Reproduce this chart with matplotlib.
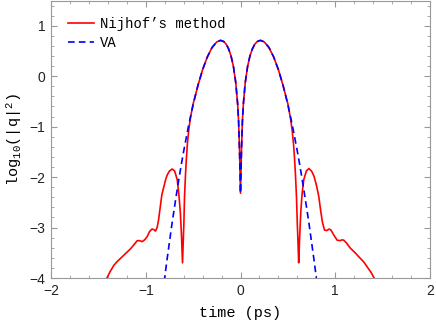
import matplotlib
matplotlib.use('Agg')
import matplotlib.pyplot as plt
from matplotlib.ticker import MultipleLocator

# values (time in ps, log10|q|^2)
t_nijhof = [-1.45, -1.41, -1.375, -1.337, -1.30, -1.249, -1.21, -1.16, -1.12, -1.09,
            -1.065, -1.038, -1.01, -0.985, -0.96, -0.935, -0.915, -0.897, -0.88, -0.865,
            -0.851, -0.83, -0.809, -0.79, -0.774, -0.75, -0.721, -0.695, -0.668, -0.65,
            -0.635, -0.623, -0.612, -0.603, -0.598, -0.591, -0.58, -0.57, -0.56, -0.545,
            -0.528, -0.50, -0.45, -0.40, -0.35, -0.30, -0.25, -0.21, -0.175, -0.15,
            -0.125, -0.10, -0.075, -0.05, -0.03, -0.02, -0.01, 0.0,
            0.01, 0.02, 0.03, 0.05, 0.075, 0.10, 0.125, 0.15, 0.175, 0.21,
            0.25, 0.30, 0.35, 0.40, 0.45, 0.50, 0.528, 0.545, 0.56, 0.57,
            0.58, 0.591, 0.60, 0.606, 0.614, 0.624, 0.636, 0.65, 0.668, 0.695,
            0.721, 0.75, 0.775, 0.80, 0.826, 0.845, 0.865, 0.887, 0.91, 0.935,
            0.955, 0.985, 1.02, 1.048, 1.07, 1.09, 1.12, 1.16, 1.21, 1.249,
            1.30, 1.337, 1.375, 1.41, 1.45]
y_nijhof = [-4.12, -4.00, -3.87, -3.75, -3.67, -3.58, -3.51, -3.42, -3.33, -3.26,
            -3.26, -3.28, -3.24, -3.18, -3.08, -3.03, -3.04, -3.07, -3.00, -2.85,
            -2.65, -2.35, -2.19, -2.05, -1.96, -1.88, -1.84, -1.88, -2.05, -2.35,
            -2.70, -3.15, -3.70, -3.20, -2.95, -2.40, -1.93, -1.60, -1.33, -1.05,
            -0.82, -0.55, -0.19, 0.13, 0.38, 0.57, 0.68, 0.71, 0.685, 0.63,
            0.54, 0.40, 0.195, -0.13, -0.555, -0.90, -1.50, -2.32,
            -1.50, -0.90, -0.555, -0.13, 0.195, 0.40, 0.54, 0.63, 0.685, 0.71,
            0.68, 0.57, 0.38, 0.13, -0.19, -0.55, -0.84, -1.07, -1.35, -1.62,
            -1.95, -2.40, -2.95, -3.25, -3.70, -3.20, -2.70, -2.33, -2.05, -1.88,
            -1.83, -1.88, -1.98, -2.15, -2.38, -2.65, -2.90, -3.05, -3.06, -3.03,
            -3.05, -3.15, -3.25, -3.26, -3.245, -3.25, -3.31, -3.41, -3.50, -3.58,
            -3.68, -3.78, -3.88, -4.00, -4.12]

t_va = [-0.82, -0.80, -0.775, -0.75, -0.725, -0.70, -0.675, -0.65, -0.625, -0.60,
        -0.55, -0.50, -0.45, -0.40, -0.35, -0.30, -0.25, -0.21, -0.175, -0.15,
        -0.125, -0.10, -0.075, -0.05, -0.03, -0.02, -0.01, 0.0,
        0.01, 0.02, 0.03, 0.05, 0.075, 0.10, 0.125, 0.15, 0.175, 0.21,
        0.25, 0.30, 0.35, 0.40, 0.45, 0.50, 0.55, 0.60, 0.625, 0.65,
        0.675, 0.70, 0.725, 0.75, 0.775, 0.80, 0.82]
y_va = [-4.29, -3.99, -3.63, -3.29, -2.95, -2.635, -2.33, -2.035, -1.755, -1.49,
        -1.00, -0.564, -0.188, 0.128, 0.382, 0.568, 0.68, 0.71, 0.685, 0.631,
        0.539, 0.402, 0.195, -0.126, -0.555, -0.90, -1.50, -2.32,
        -1.50, -0.90, -0.555, -0.126, 0.195, 0.402, 0.539, 0.631, 0.685, 0.71,
        0.68, 0.568, 0.382, 0.128, -0.188, -0.564, -1.00, -1.49, -1.755, -2.035,
        -2.33, -2.635, -2.95, -3.29, -3.63, -3.99, -4.29]

mono = 'Liberation Mono'
plt.rcParams['mathtext.fontset'] = 'custom'
plt.rcParams['mathtext.rm'] = mono
plt.rcParams['mathtext.it'] = mono

fig = plt.figure(figsize=(4.36, 3.27), dpi=100)
ax = fig.add_axes([51 / 436, 49 / 327, 379 / 436, 277.5 / 327])

ax.plot(t_nijhof, y_nijhof, color='#ff0000', lw=1.2, label="Nijhof’s method")
line, = ax.plot(t_va, y_va, color='#0000ff', lw=1.2, label='VA')
line.set_dashes((4, 2.5))

ax.set_xlim(-2, 2)
ax.set_ylim(-4, 1.5)
ax.xaxis.set_major_locator(MultipleLocator(1))
ax.xaxis.set_minor_locator(MultipleLocator(0.2))
ax.yaxis.set_major_locator(MultipleLocator(1))
ax.yaxis.set_minor_locator(MultipleLocator(0.2))

for s in ax.spines.values():
    s.set_color('#999999')
    s.set_linewidth(0.8)
ax.tick_params(which='both', direction='in', top=True, right=True, color='#999999')
ax.tick_params(which='major', length=4.5, width=0.8, labelsize=10, pad=4,
               labelcolor='#222222')
ax.tick_params(which='minor', length=2.5, width=0.6)
for lab in ax.get_xticklabels() + ax.get_yticklabels():
    lab.set_family('Liberation Sans')

ax.set_xlabel('time (ps)', family=mono, fontsize=11, labelpad=6)
ax.set_ylabel('log$_{10}$(|q|$^{2}$)', family=mono, fontsize=11, labelpad=4)

ax.legend(loc='upper left', bbox_to_anchor=(0.012, 0.985), frameon=False,
          prop={'family': mono, 'size': 10}, handlelength=1.9,
          handletextpad=0.4, labelspacing=0.35)

fig.savefig('out.png', dpi=100)
